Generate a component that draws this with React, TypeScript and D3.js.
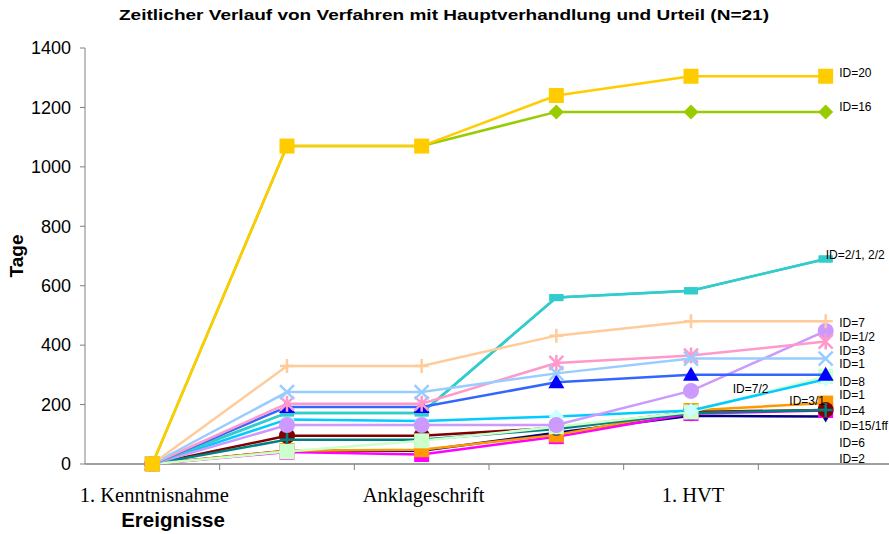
import * as d3 from "d3";

const title = "Zeitlicher Verlauf von Verfahren mit Hauptverhandlung und Urteil (N=21)";
const tickLabels = ["1. Kenntnisnahme", "", "Anklageschrift", "", "1. HVT", ""];
const yTicks = [0, 200, 400, 600, 800, 1000, 1200, 1400];

type Shape = "square" | "diamond" | "dash" | "plus" | "star" | "cross" | "triangle" | "circle" | "down";

interface Series {
  id: string;
  values: number[];
  line: string;
  fill: string;
  shape: Shape;
}

// drawn in this order, last on top
const navy = [0, 45, 45, 105, 162, 160];
const magenta = [0, 40, 32, 92, 170, 180];
const orange = [0, 45, 48, 98, 180, 205];
const darkRed = [0, 95, 95, 122, 175, 182];
const darkTeal = [0, 82, 82, 118, 172, 182];
const lightGreen = [0, 42, 78, 125, 175, 295];
const cyan = [0, 150, 145, 160, 180, 285];
const lavender = [0, 131, 131, 131, 246, 448];
const teal21 = [0, 172, 172, 560, 583, 690];
const teal22 = [0, 172, 172, 560, 583, 690];
const blue8 = [0, 192, 192, 275, 300, 300];
const pink3 = [0, 203, 203, 340, 365, 412];
const lightBlue1 = [0, 242, 242, 305, 355, 355];
const peach7 = [0, 330, 330, 432, 480, 480];
const green16 = [0, 1070, 1070, 1185, 1185, 1185];
const gold20 = [0, 1070, 1070, 1240, 1305, 1305];

const series: Series[] = [
  { id: "navy", values: navy, line: "#000080", fill: "#000080", shape: "down" },
  { id: "magenta", values: magenta, line: "#FF00FF", fill: "#FF00FF", shape: "square" },
  { id: "orange", values: orange, line: "#FF9900", fill: "#FF9900", shape: "square" },
  { id: "darkred", values: darkRed, line: "#800000", fill: "#800000", shape: "circle" },
  { id: "darkteal", values: darkTeal, line: "#008080", fill: "#008080", shape: "plus" },
  { id: "lightgreen", values: lightGreen, line: "#CCFFCC", fill: "#CCFFCC", shape: "square" },
  { id: "cyan", values: cyan, line: "#00CCFF", fill: "#CCFFFF", shape: "diamond" },
  { id: "lavender", values: lavender, line: "#CC99FF", fill: "#CC99FF", shape: "circle" },
  { id: "2/1", values: teal21, line: "#33CCCC", fill: "#33CCCC", shape: "dash" },
  { id: "2/2", values: teal22, line: "#33CCCC", fill: "#33CCCC", shape: "dash" },
  { id: "8", values: blue8, line: "#3366FF", fill: "#0000FF", shape: "triangle" },
  { id: "3", values: pink3, line: "#FF99CC", fill: "#FF99CC", shape: "star" },
  { id: "1", values: lightBlue1, line: "#99CCFF", fill: "#99CCFF", shape: "cross" },
  { id: "7", values: peach7, line: "#FFCC99", fill: "#FFCC99", shape: "plus" },
  { id: "16", values: green16, line: "#99CC00", fill: "#99CC00", shape: "diamond" },
  { id: "20", values: gold20, line: "#FFCC00", fill: "#FFCC00", shape: "square" },
];

// data labels: category position and value they sit at
const labelText = ["ID=20", "ID=16", "ID=2/1, 2/2", "ID=7", "ID=1/2", "ID=3", "ID=1", "ID=8", "ID=1", "ID=4", "ID=15/1ff", "ID=6", "ID=2", "ID=7/2", "ID=3/1"];
const labelPos = [5.1, 5.1, 5.0, 5.1, 5.1, 5.1, 5.1, 5.1, 5.1, 5.1, 5.1, 5.1, 5.1, 4.31, 4.73];
const labelValue = [1316, 1201, 703, 475, 427, 380, 337, 276, 232, 178, 128, 71, 17, 252, 212];

function Marker({ shape, x, y, fill }: { shape: Shape; x: number; y: number; fill: string }) {
  const s = 7.5;
  switch (shape) {
    case "square":
      return <rect x={x - s} y={y - s} width={s * 2} height={s * 2} fill={fill} />;
    case "diamond":
      return <path d={`M${x},${y - s}L${x + s},${y}L${x},${y + s}L${x - s},${y}Z`} fill={fill} />;
    case "dash":
      return <rect x={x - 7} y={y - 3.5} width={14} height={7} fill={fill} />;
    case "plus":
      return (
        <path d={`M${x - 7},${y}H${x + 7}M${x},${y - 7}V${y + 7}`} stroke={fill} strokeWidth={2.5} fill="none" />
      );
    case "cross":
      return (
        <path d={`M${x - 7},${y - 7}L${x + 7},${y + 7}M${x - 7},${y + 7}L${x + 7},${y - 7}`} stroke={fill} strokeWidth={2.5} fill="none" />
      );
    case "star":
      return (
        <path
          d={`M${x - 7},${y - 7}L${x + 7},${y + 7}M${x - 7},${y + 7}L${x + 7},${y - 7}M${x},${y - 8}V${y + 8}`}
          stroke={fill}
          strokeWidth={2.5}
          fill="none"
        />
      );
    case "triangle":
      return <path d={`M${x},${y - 8}L${x + 8},${y + 6}L${x - 8},${y + 6}Z`} fill={fill} />;
    case "down":
      return <path d={`M${x - 6},${y - 4}L${x + 6},${y - 4}L${x},${y + 6}Z`} fill={fill} />;
    case "circle":
      return <circle cx={x} cy={y} r={8} fill={fill} />;
  }
}

export default function App() {
  const width = 889;
  const height = 534;
  const left = 85;
  const right = 893;
  const top = 48;
  const bottom = 464;

  const band = d3.scaleBand<number>().domain(d3.range(tickLabels.length)).range([left, right]);
  const x = d3
    .scaleLinear()
    .domain([-0.5, tickLabels.length - 0.5])
    .range([left, right]);
  const y = d3.scaleLinear().domain([0, 1400]).range([bottom, top]);

  const lineGen = d3
    .line<number>()
    .x((_, i) => x(i))
    .y((d) => y(d));

  const sans = "Arial, 'Liberation Sans', sans-serif";
  const serif = "'Times New Roman', 'Liberation Serif', serif";

  return (
    <svg width={width} height={height} style={{ position: "absolute", left: 0, top: 0, background: "#fff" }}>
      <text
        x={444}
        y={20}
        textAnchor="middle"
        fontFamily={sans}
        fontWeight="bold"
        fontSize={14}
        textLength={650}
        lengthAdjust="spacingAndGlyphs"
        fill="#000"
      >
        {title}
      </text>

      {/* y axis */}
      <line x1={left} y1={top} x2={left} y2={bottom} stroke="#808080" />
      {yTicks.map((t) => (
        <g key={t}>
          <line x1={left - 5} x2={left} y1={y(t)} y2={y(t)} stroke="#808080" />
          <text x={left - 14} y={y(t)} dy="0.35em" textAnchor="end" fontFamily={sans} fontSize={18} fill="#000">
            {t}
          </text>
        </g>
      ))}
      <text
        transform={`translate(23, ${(top + bottom) / 2}) rotate(-90)`}
        textAnchor="middle"
        fontFamily={sans}
        fontWeight="bold"
        fontSize={19}
        fill="#000"
      >
        Tage
      </text>

      {/* x axis */}
      <line x1={left} y1={bottom} x2={right} y2={bottom} stroke="#808080" strokeWidth={1.5} />
      {band.domain().map((i) => (
        <line key={i} x1={(band(i) ?? 0) + band.bandwidth()} x2={(band(i) ?? 0) + band.bandwidth()} y1={bottom} y2={bottom + 6} stroke="#808080" />
      ))}
      {tickLabels.map((t, i) =>
        t ? (
          <text key={i} x={x(i) + 2} y={502} textAnchor="middle" fontFamily={serif} fontSize={20.5} fill="#000">
            {t}
          </text>
        ) : null
      )}
      <text x={173} y={527} textAnchor="middle" fontFamily={sans} fontWeight="bold" fontSize={20.5} fill="#000">
        Ereignisse
      </text>

      {/* series */}
      {series.map((s) => (
        <g key={s.id}>
          <path d={lineGen(s.values) ?? ""} fill="none" stroke={s.line} strokeWidth={2.5} />
          {s.values.map((v, i) => (
            <Marker key={i} shape={s.shape} x={x(i)} y={y(v)} fill={s.fill} />
          ))}
        </g>
      ))}

      {/* data labels */}
      {labelText.map((t, i) => (
        <text key={i} x={x(labelPos[i])} y={y(labelValue[i])} dy="0.35em" fontFamily={sans} fontSize={12} fill="#000">
          {t}
        </text>
      ))}
    </svg>
  );
}
